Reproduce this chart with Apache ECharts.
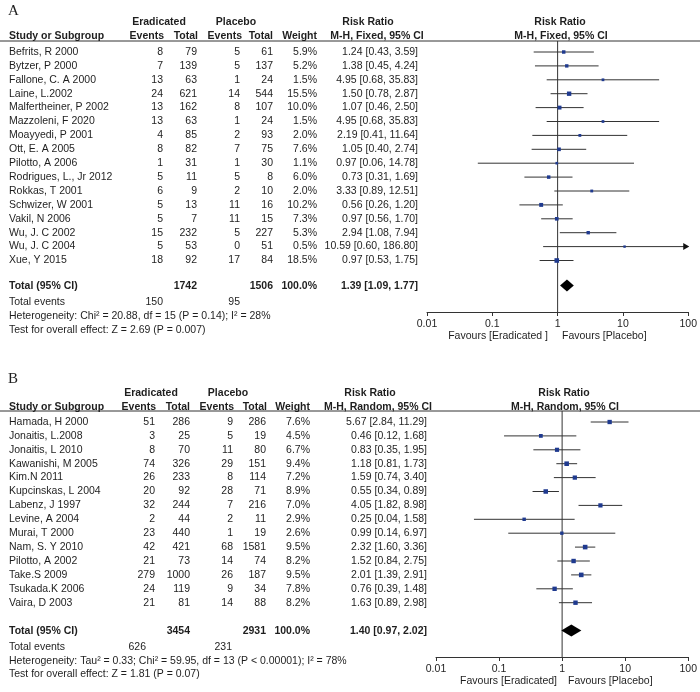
<!DOCTYPE html>
<html><head><meta charset="utf-8">
<script src="https://cdn.jsdelivr.net/npm/echarts@6/dist/echarts.min.js"></script>
<style>html,body{margin:0;padding:0;background:#fff}#c{width:700px;height:692px}</style>
</head><body><div id="c"></div>
<script>
// ---------- Panel A data ----------
const studiesA = ["Befrits, R 2000","Bytzer, P 2000","Fallone, C. A 2000","Laine, L.2002","Malfertheiner, P 2002","Mazzoleni, F 2020","Moayyedi, P 2001","Ott, E. A 2005","Pilotto, A 2006","Rodrigues, L., Jr 2012","Rokkas, T 2001","Schwizer, W 2001","Vakil, N 2006","Wu, J. C 2002","Wu, J. C 2004","Xue, Y 2015"];
const eEventsA = [8,7,13,24,13,13,4,8,1,5,6,5,5,15,5,18];
const eTotalA  = [79,139,63,621,162,63,85,82,31,11,9,13,7,232,53,92];
const pEventsA = [5,5,1,14,8,1,2,7,1,5,2,11,11,5,0,17];
const pTotalA  = [61,137,24,544,107,24,93,75,30,8,10,16,15,227,51,84];
const weightA  = [5.9,5.2,1.5,15.5,10.0,1.5,2.0,7.6,1.1,6.0,2.0,10.2,7.3,5.3,0.5,18.5];
const rrA = [1.24,1.38,4.95,1.50,1.07,4.95,2.19,1.05,0.97,0.73,3.33,0.56,0.97,2.94,10.59,0.97];
const loA = [0.43,0.45,0.68,0.78,0.46,0.68,0.41,0.40,0.06,0.31,0.89,0.26,0.56,1.08,0.60,0.53];
const hiA = [3.59,4.24,35.83,2.87,2.50,35.83,11.64,2.74,14.78,1.69,12.51,1.20,1.70,7.94,186.80,1.75];
const totalRRA = [1.39, 1.09, 1.77];
const totalsA = [1742, 1506, 150, 95];
const hetA = "Heterogeneity: Chi² = 20.88, df = 15 (P = 0.14); I² = 28%";
const testA = "Test for overall effect: Z = 2.69 (P = 0.007)";
const favA = ["Favours [Eradicated ]", "Favours [Placebo]"];

// ---------- Panel B data ----------
const studiesB = ["Hamada, H 2000","Jonaitis, L.2008","Jonaitis, L 2010","Kawanishi, M 2005","Kim.N 2011","Kupcinskas, L 2004","Labenz, J 1997","Levine, A 2004","Murai, T 2000","Nam, S. Y 2010","Pilotto, A 2002","Take.S 2009","Tsukada.K 2006","Vaira, D 2003"];
const eEventsB = [51,3,8,74,26,20,32,2,23,42,21,279,24,21];
const eTotalB  = [286,25,70,326,233,92,244,44,440,421,73,1000,119,81];
const pEventsB = [9,5,11,29,8,28,7,2,1,68,14,26,9,14];
const pTotalB  = [286,19,80,151,114,71,216,11,19,1581,74,187,34,88];
const weightB  = [7.6,4.5,6.7,9.4,7.2,8.9,7.0,2.9,2.6,9.5,8.2,9.5,7.8,8.2];
const rrB = [5.67,0.46,0.83,1.18,1.59,0.55,4.05,0.25,0.99,2.32,1.52,2.01,0.76,1.63];
const loB = [2.84,0.12,0.35,0.81,0.74,0.34,1.82,0.04,0.14,1.60,0.84,1.39,0.39,0.89];
const hiB = [11.29,1.68,1.95,1.73,3.40,0.89,8.98,1.58,6.97,3.36,2.75,2.91,1.48,2.98];
const totalRRB = [1.40, 0.97, 2.02];
const totalsB = [3454, 2931, 626, 231];
const hetB = "Heterogeneity: Tau² = 0.33; Chi² = 59.95, df = 13 (P < 0.00001); I² = 78%";
const testB = "Test for overall effect: Z = 1.81 (P = 0.07)";
const favB = ["Favours [Eradicated]", "Favours [Placebo]"];

const xTicks = [0.01, 0.1, 1, 10, 100];

// ---------- layout / style ----------
const FONT = '"Liberation Sans", Arial, sans-serif';
const FS = 10.5;
const TXT = '#1e1e1e';
const LINE = '#333';
const BOX = '#1f3a8f';

const LA = {label:'A', method:'M-H, Fixed, 95% CI', labelY:11, headY1:22, headY2:36, lineY:41, row0:52, rowH:13.9,
  totalY:286, eventsY:302, hetY:316, testY:330, axisY:312, favY:336, gridLeft:427, gridRight:690,
  col:{study:9,eE:163,eT:197,pE:240,pT:273,w:317,rr:418},
  hdr:{eE:164,eT:198,pE:242,pT:273,w:317},
  head:{erad:159,plac:236,rrT:368,rrP:560,mhT:377,mhP:561},
  ev:{e:163,p:240}, favL:548, favR:562, dH:6};
const LB = {label:'B', method:'M-H, Random, 95% CI', labelY:379, headY1:393, headY2:407, lineY:411, row0:422, rowH:13.9,
  totalY:631, eventsY:647, hetY:661, testY:674, axisY:657, favY:681, gridLeft:436, gridRight:690,
  col:{study:9,eE:155,eT:190,pE:233,pT:266,w:310,rr:427},
  hdr:{eE:156,eT:190,pE:234,pT:267,w:310},
  head:{erad:151,plac:228,rrT:370,rrP:564,mhT:378,mhP:565},
  ev:{e:146,p:232}, favL:557, favR:568, dH:6};

const PA = {studies:studiesA,eE:eEventsA,eT:eTotalA,pE:pEventsA,pT:pTotalA,w:weightA,rr:rrA,lo:loA,hi:hiA,tot:totalRRA,totals:totalsA,het:hetA,test:testA,fav:favA};
const PB = {studies:studiesB,eE:eEventsB,eT:eTotalB,pE:pEventsB,pT:pTotalB,w:weightB,rr:rrB,lo:loB,hi:hiB,tot:totalRRB,totals:totalsB,het:hetB,test:testB,fav:favB};

const ciText = (r,l,h) => r.toFixed(2) + ' [' + l.toFixed(2) + ', ' + h.toFixed(2) + ']';
const c = (text,x,align,bold,serif) => ({text:String(text),x,align,bold,serif});

function buildRows(P, L) {
  const ri = y => (y - L.row0) / L.rowH;
  const rows = [];
  rows.push({y:ri(L.labelY), cells:[c(L.label, 8, 'left', false, true)]});
  rows.push({y:ri(L.headY1), cells:[c('Eradicated',L.head.erad,'center',true), c('Placebo',L.head.plac,'center',true),
    c('Risk Ratio',L.head.rrT,'center',true), c('Risk Ratio',L.head.rrP,'center',true)]});
  rows.push({y:ri(L.headY2), cells:[c('Study or Subgroup',L.col.study,'left',true), c('Events',L.hdr.eE,'right',true),
    c('Total',L.hdr.eT,'right',true), c('Events',L.hdr.pE,'right',true), c('Total',L.hdr.pT,'right',true),
    c('Weight',L.hdr.w,'right',true), c(L.method,L.head.mhT,'center',true), c(L.method,L.head.mhP,'center',true)]});
  P.studies.forEach((s,i) => rows.push({y:i, cells:[c(s,L.col.study,'left'), c(P.eE[i],L.col.eE,'right'),
    c(P.eT[i],L.col.eT,'right'), c(P.pE[i],L.col.pE,'right'), c(P.pT[i],L.col.pT,'right'),
    c(P.w[i].toFixed(1)+'%',L.col.w,'right'), c(ciText(P.rr[i],P.lo[i],P.hi[i]),L.col.rr,'right')]}));
  rows.push({y:ri(L.totalY), cells:[c('Total (95% CI)',L.col.study,'left',true), c(P.totals[0],L.col.eT,'right',true),
    c(P.totals[1],L.col.pT,'right',true), c('100.0%',L.col.w,'right',true), c(ciText(P.tot[0],P.tot[1],P.tot[2]),L.col.rr,'right',true)]});
  rows.push({y:ri(L.eventsY), cells:[c('Total events',L.col.study,'left'), c(P.totals[2],L.ev.e,'right'), c(P.totals[3],L.ev.p,'right')]});
  rows.push({y:ri(L.hetY), cells:[c(P.het,L.col.study,'left')]});
  rows.push({y:ri(L.testY), cells:[c(P.test,L.col.study,'left')]});
  rows.push({y:ri(L.favY), cells:[c(P.fav[0],L.favL,'right'), c(P.fav[1],L.favR,'left')]});
  return rows;
}

function panel(P, L, gi) {
  const ymin = (L.lineY - L.row0) / L.rowH;
  const ymax = (L.axisY - L.row0) / L.rowH;
  const totRow = (L.totalY - 0.5 - L.row0) / L.rowH;
  const rows = buildRows(P, L);
  const wmax = Math.max(...P.w);
  const grid = {left:L.gridLeft, width:L.gridRight-L.gridLeft, top:L.lineY, height:L.axisY-L.lineY, containLabel:false};
  const xAxis = {type:'log', logBase:10, min:xTicks[0], max:xTicks[xTicks.length-1], gridIndex:gi, position:'bottom',
    axisLine:{show:true, onZero:false, lineStyle:{color:LINE, width:1}},
    axisTick:{show:true, length:4, lineStyle:{color:LINE}},
    axisLabel:{color:TXT, fontFamily:FONT, fontSize:FS, margin:7, formatter:v => String(Number(v.toPrecision(3)))},
    splitLine:{show:false}, minorTick:{show:false}};
  const yAxis = {type:'value', inverse:true, min:ymin, max:ymax, gridIndex:gi, show:false, splitLine:{show:false}};
  const series = [];
  // frame: header rule and vertical line at RR = 1
  series.push({type:'custom', xAxisIndex:gi, yAxisIndex:gi, silent:true, data:[[1, ymin, ymax]], encode:{x:0, y:[1,2]},
    renderItem:(params, api) => {
      const top = api.coord([1, api.value(1)]);
      const bot = api.coord([1, api.value(2)]);
      return {type:'group', children:[
        {type:'line', shape:{x1:0, y1:top[1], x2:700, y2:top[1]}, style:{stroke:LINE, lineWidth:1}},
        {type:'line', shape:{x1:top[0], y1:top[1], x2:bot[0], y2:bot[1]}, style:{stroke:LINE, lineWidth:1}}
      ]};
    }});
  // table text
  series.push({type:'custom', xAxisIndex:gi, yAxisIndex:gi, silent:true, clip:false,
    data:rows.map(r => [1, r.y]), encode:{x:0, y:1},
    renderItem:(params, api) => {
      const row = rows[params.dataIndex];
      const y = api.coord([1, api.value(1)])[1];
      return {type:'group', children: row.cells.map(cl => ({type:'text', style:{
        text:cl.text, x:cl.x, y:y, align:cl.align, verticalAlign:'middle', fill:TXT,
        font: cl.serif ? '15px "Liberation Serif", "Times New Roman", serif' : ((cl.bold ? 'bold ' : '') + FS + 'px ' + FONT)}}))};
    }});
  // study CIs and boxes
  const xmax = xTicks[xTicks.length-1];
  series.push({type:'custom', xAxisIndex:gi, yAxisIndex:gi, silent:true, clip:false,
    data:P.studies.map((s,i) => [P.rr[i], P.lo[i], P.hi[i], i, P.w[i]]), encode:{x:[0,1,2], y:3},
    renderItem:(params, api) => {
      const row = api.value(3), hi = api.value(2);
      const p = api.coord([api.value(0), row]);
      const l = api.coord([api.value(1), row]);
      const h = api.coord([Math.min(hi, xmax), row]);
      const sz = 2 + 2.6 * Math.sqrt(api.value(4) / wmax);
      const ch = [
        {type:'line', shape:{x1:l[0], y1:l[1], x2:h[0], y2:h[1]}, style:{stroke:LINE, lineWidth:1}},
        {type:'rect', shape:{x:p[0]-sz/2, y:p[1]-sz/2, width:sz, height:sz}, style:{fill:BOX}}
      ];
      if (hi > xmax) ch.push({type:'polygon', shape:{points:[[h[0]-5,h[1]-3.5],[h[0]+1,h[1]],[h[0]-5,h[1]+3.5]]}, style:{fill:'#111'}});
      return {type:'group', children:ch};
    }});
  // pooled diamond
  series.push({type:'custom', xAxisIndex:gi, yAxisIndex:gi, silent:true, clip:false,
    data:[[P.tot[0], P.tot[1], P.tot[2], totRow]], encode:{x:[0,1,2], y:3},
    renderItem:(params, api) => {
      const r = api.value(3);
      const p = api.coord([api.value(0), r]);
      const l = api.coord([api.value(1), r]);
      const h = api.coord([api.value(2), r]);
      return {type:'polygon', shape:{points:[[l[0],p[1]],[p[0],p[1]-L.dH],[h[0],p[1]],[p[0],p[1]+L.dH]]}, style:{fill:'#000'}};
    }});
  return {grid, xAxis, yAxis, series};
}

const a = panel(PA, LA, 0);
const b = panel(PB, LB, 1);
const chart = echarts.init(document.getElementById('c'), null, {renderer:'canvas'});
chart.setOption({
  animation:false,
  backgroundColor:'#fff',
  grid:[a.grid, b.grid],
  xAxis:[a.xAxis, b.xAxis],
  yAxis:[a.yAxis, b.yAxis],
  series:[...a.series, ...b.series]
});
</script>
</body></html>
